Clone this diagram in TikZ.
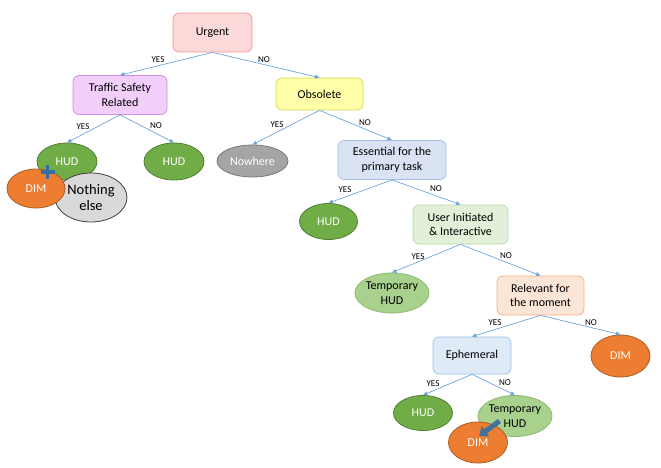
\documentclass[tikz,border=0pt]{standalone}
\usepackage{fontspec}
\setmainfont{Carlito}
\usetikzlibrary{arrows.meta,shapes.geometric}
\definecolor{edgeblue}{RGB}{110,165,220}
\definecolor{urgfill}{RGB}{251,217,217}\definecolor{urgdraw}{RGB}{240,150,150}
\definecolor{trffill}{RGB}{242,206,250}\definecolor{trfdraw}{RGB}{204,143,230}
\definecolor{obsfill}{RGB}{255,255,170}\definecolor{obsdraw}{RGB}{215,215,80}
\definecolor{essfill}{RGB}{218,227,243}\definecolor{essdraw}{RGB}{160,190,230}
\definecolor{usrfill}{RGB}{226,240,217}\definecolor{usrdraw}{RGB}{180,215,160}
\definecolor{relfill}{RGB}{251,229,214}\definecolor{reldraw}{RGB}{244,177,131}
\definecolor{ephfill}{RGB}{222,235,247}\definecolor{ephdraw}{RGB}{157,195,230}
\definecolor{hudfill}{RGB}{112,173,71}\definecolor{huddraw}{RGB}{80,126,50}
\definecolor{tmpfill}{RGB}{169,209,142}\definecolor{tmpdraw}{RGB}{140,185,110}
\definecolor{dimfill}{RGB}{237,125,49}\definecolor{dimdraw}{RGB}{174,90,33}
\definecolor{nowfill}{RGB}{165,165,165}\definecolor{nowdraw}{RGB}{120,120,120}
\definecolor{nthfill}{RGB}{217,217,217}\definecolor{nthdraw}{RGB}{64,64,64}
\definecolor{plusblue}{RGB}{50,110,170}\definecolor{arrblue}{RGB}{65,113,156}
\tikzset{
  box/.style={rectangle, rounded corners=6pt, line width=0.7pt, align=center,
    font=\fontsize{12}{14.5}\selectfont, inner sep=0pt},
  oval/.style={ellipse, line width=0.8pt, align=center, inner sep=0pt,
    font=\fontsize{12}{14.5}\selectfont},
  hud/.style={oval, fill=hudfill, draw=huddraw, text=white},
  dim/.style={oval, fill=dimfill, draw=dimdraw, text=white},
  tmp/.style={oval, fill=tmpfill, draw=tmpdraw, text=black},
  edge/.style={draw=edgeblue, line width=0.7pt, -{Triangle[length=4.5pt,width=4pt]}},
  lbl/.style={font=\fontsize{9}{10}\selectfont, inner sep=0pt}
}
\begin{document}
\begin{tikzpicture}[x=1pt,y=-1pt]
\useasboundingbox (0,0) rectangle (661,468);
% decision boxes
\node[box, fill=urgfill, draw=urgdraw, minimum width=79pt, minimum height=39pt] (urgent) at (212.5,32.5) {Urgent};
\node[box, fill=trffill, draw=trfdraw, minimum width=94pt, minimum height=39pt] (traffic) at (120,95) {Traffic Safety\\Related};
\node[box, fill=obsfill, draw=obsdraw, minimum width=87pt, minimum height=32pt] (obsolete) at (319.5,94) {Obsolete};
\node[box, fill=essfill, draw=essdraw, minimum width=108pt, minimum height=39pt] (essential) at (392,160) {Essential for the\\primary task};
\node[box, fill=usrfill, draw=usrdraw, minimum width=95pt, minimum height=39pt] (user) at (460.5,224.5) {User Initiated\\\& Interactive};
\node[box, fill=relfill, draw=reldraw, minimum width=87pt, minimum height=39pt] (relevant) at (540.5,295.5) {Relevant for\\the moment};
\node[box, fill=ephfill, draw=ephdraw, minimum width=78pt, minimum height=37pt] (ephemeral) at (472,355.5) {Ephemeral};
% outcome ovals
\node[hud, minimum width=60pt, minimum height=37pt] (hudA) at (67,161.5) {HUD};
\node[hud, minimum width=60pt, minimum height=37pt] (hudB) at (174,161.5) {HUD};
\node[oval, fill=nowfill, draw=nowdraw, text=white, minimum width=71pt, minimum height=32pt] (nowhere) at (252.5,161) {Nowhere};
\node[oval, fill=nthfill, draw=nthdraw, minimum width=72pt, minimum height=49pt, font=\fontsize{14.5}{16.5}\selectfont] (nothing) at (91,197.5) {Nothing\\else};
\node[dim, minimum width=58pt, minimum height=39pt] (dimA) at (36,188.5) {DIM};
\node[hud, minimum width=58pt, minimum height=36pt] (hudC) at (328.5,221.5) {HUD};
\node[tmp, minimum width=70pt, minimum height=40pt] (tmpA) at (392,293) {Temporary\\HUD};
\node[dim, minimum width=59pt, minimum height=42pt] (dimB) at (620.5,356) {DIM};
\node[hud, minimum width=59pt, minimum height=35pt] (hudD) at (423,413) {HUD};
\node[tmp, minimum width=68pt, minimum height=41pt] (tmpB) at (515,416) {Temporary\\HUD};
\node[dim, minimum width=59pt, minimum height=41pt] (dimC) at (478,442.5) {DIM};
% plus marker
\coordinate (plusc) at (47.5,172);
\draw[plusblue, line width=3.6pt] ([xshift=-7pt]plusc) -- ([xshift=7pt]plusc);
\draw[plusblue, line width=3.6pt] ([yshift=-7pt]plusc) -- ([yshift=7pt]plusc);
% block arrow
\coordinate (arrS) at (499.5,421);
\coordinate (arrE) at (479,436);
\draw[arrblue, line width=5pt, -{Triangle[length=8pt,width=12pt]}] (arrS) -- (arrE);
% connectors
\draw[edge] (urgent.south) -- (traffic.north);
\draw[edge] (urgent.south) -- (obsolete.north);
\draw[edge] (traffic.south) -- (hudA.north);
\draw[edge] (traffic.south) -- (hudB.north);
\draw[edge] (obsolete.south) -- (nowhere.north);
\draw[edge] (obsolete.south) -- (essential.north);
\draw[edge] (essential.south) -- (hudC.north);
\draw[edge] (essential.south) -- (user.north);
\draw[edge] (user.south) -- (tmpA.north);
\draw[edge] (user.south) -- (relevant.north);
\draw[edge] (relevant.south) -- (ephemeral.north);
\draw[edge] (relevant.south) -- (dimB.north);
\draw[edge] (ephemeral.south) -- (hudD.north);
\draw[edge] (ephemeral.south) -- (tmpB.north);
% labels
\node[lbl] (l1) at (158,60) {YES};
\node[lbl] (l2) at (264,60) {NO};
\node[lbl] (l3) at (83,127) {YES};
\node[lbl] (l4) at (156,126) {NO};
\node[lbl] (l5) at (277,125) {YES};
\node[lbl] (l6) at (365,123) {NO};
\node[lbl] (l7) at (345,190) {YES};
\node[lbl] (l8) at (436,189) {NO};
\node[lbl] (l9) at (418,257) {YES};
\node[lbl] (l10) at (506,256) {NO};
\node[lbl] (l11) at (495,323) {YES};
\node[lbl] (l12) at (591,323) {NO};
\node[lbl] (l13) at (433,384) {YES};
\node[lbl] (l14) at (505,383) {NO};
\end{tikzpicture}
\end{document}
